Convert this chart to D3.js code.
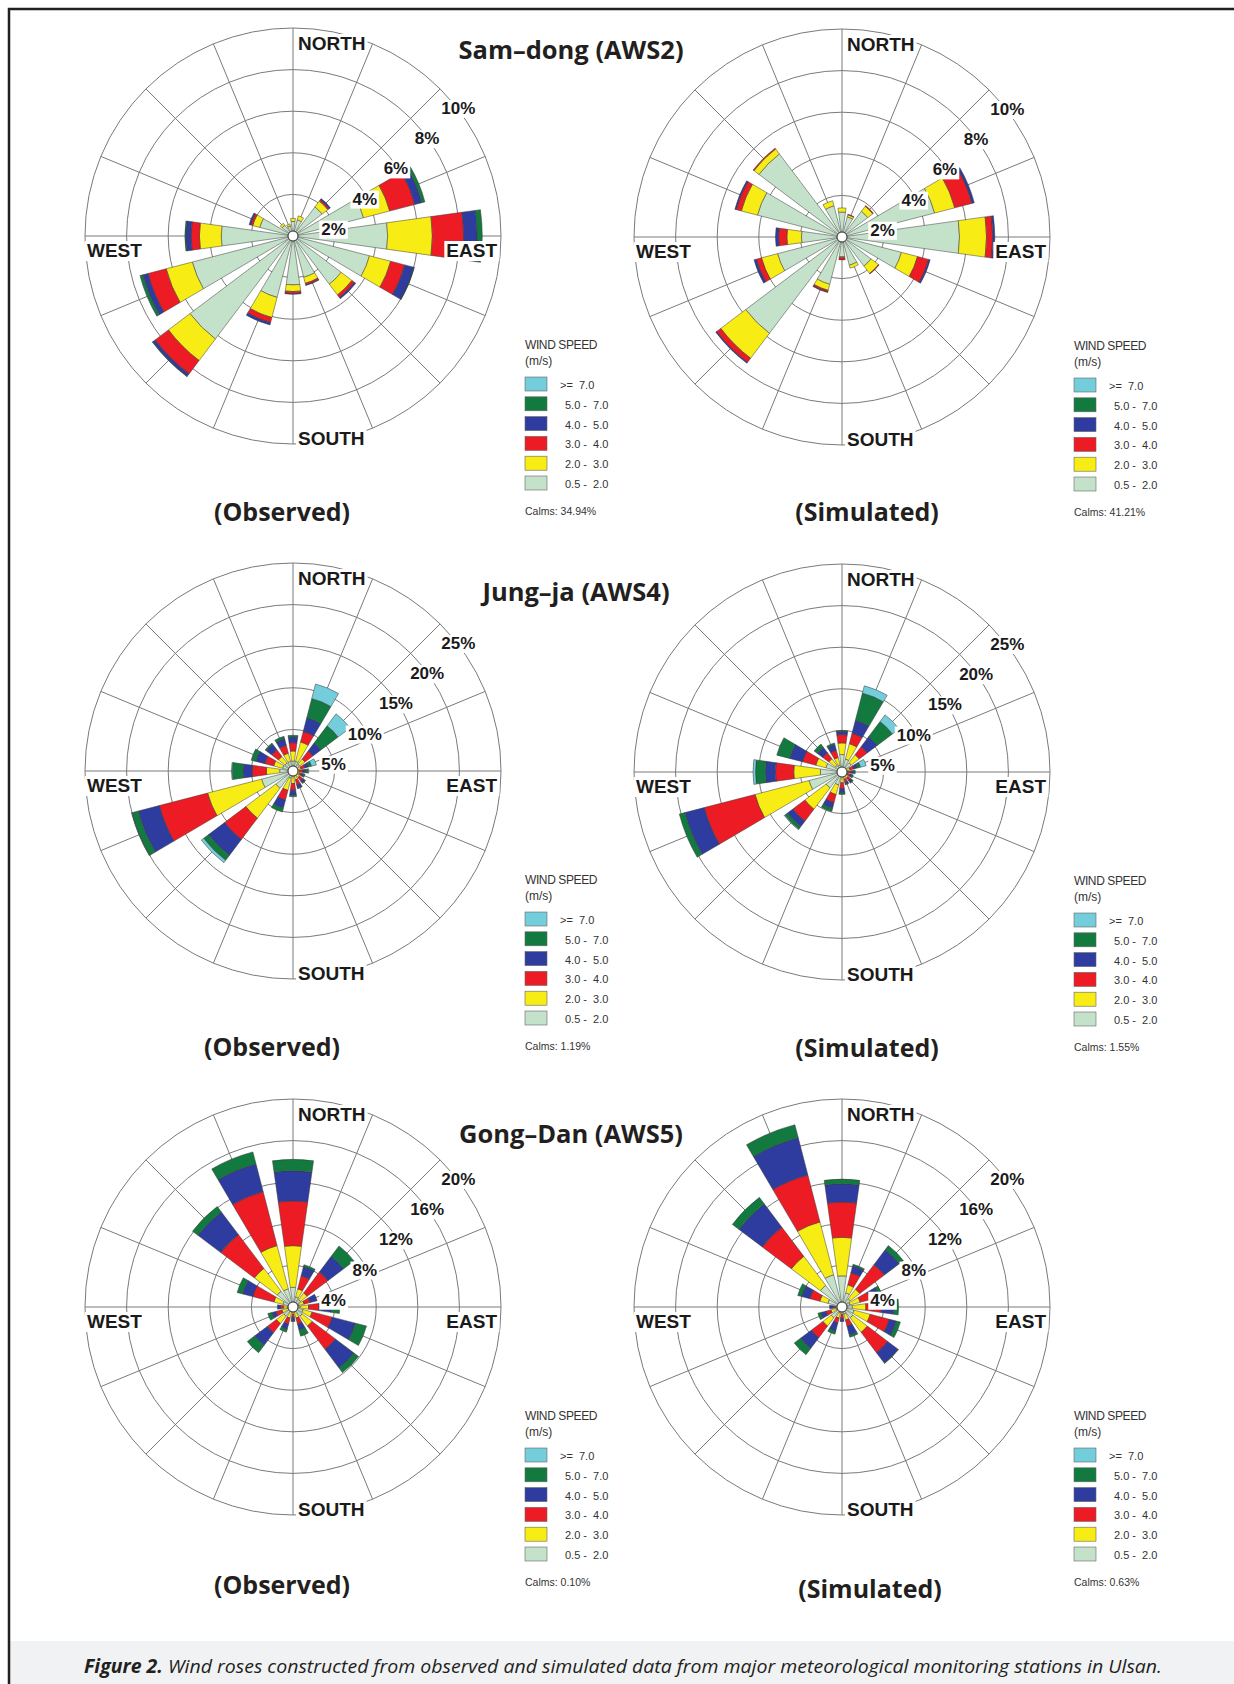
<!DOCTYPE html>
<html>
<head>
<meta charset="utf-8">
<script src="https://cdn.jsdelivr.net/npm/d3@7"></script>
<style>
  body { margin: 0; background: #fff; }
  svg { display: block; }
</style>
</head>
<body>
<div id="chart"></div>
<script>
// Directions, clockwise from north
const directions = ['N','NNE','NE','ENE','E','ESE','SE','SSE','S','SSW','SW','WSW','W','WNW','NW','NNW'];

// Speed bins (stacking order, inside -> outside)
const speedBins = ['0.5 - 2.0', '2.0 - 3.0', '3.0 - 4.0', '4.0 - 5.0', '5.0 - 7.0', '>= 7.0'];
const binColors = ['#c4e1c9', '#f7ec13', '#ed1c24', '#2d3c9e', '#127a3e', '#74cddb'];

// Ring labels (%)
const samdongTicks = [2, 4, 6, 8, 10];
const jungjaTicks = [5, 10, 15, 20, 25];
const gongdanTicks = [4, 8, 12, 16, 20];

// Frequencies (%) per direction: [0.5-2, 2-3, 3-4, 4-5, 5-7, >=7]
const samdongObs = [
  [0.7, 0.15, 0, 0, 0, 0],
  [0.8, 0.2, 0, 0, 0, 0],
  [1.75, 0.35, 0.08, 0.07, 0, 0],
  [3.5, 1.3, 1.25, 0.35, 0.15, 0],
  [4.55, 2.15, 1.5, 0.65, 0.25, 0],
  [3.8, 1.05, 0.7, 0.45, 0.03, 0],
  [2.9, 0.65, 0.15, 0.08, 0, 0],
  [2.05, 0.3, 0.08, 0.03, 0, 0],
  [2.35, 0.32, 0.1, 0.03, 0, 0],
  [3.05, 1.0, 0.25, 0.12, 0, 0],
  [6.2, 1.3, 0.8, 0.15, 0.02, 0],
  [5.0, 1.3, 0.9, 0.25, 0.15, 0],
  [3.45, 1.05, 0.4, 0.25, 0.05, 0],
  [1.65, 0.35, 0.1, 0.08, 0, 0],
  [0.65, 0.12, 0, 0, 0, 0],
  [0.5, 0.1, 0, 0, 0, 0]
];
const samdongSim = [
  [1.2, 0.2, 0, 0, 0, 0],
  [1.0, 0.1, 0.03, 0, 0, 0],
  [1.55, 0.3, 0.04, 0, 0, 0],
  [4.6, 1.0, 0.85, 0.12, 0, 0],
  [5.65, 1.3, 0.3, 0.1, 0, 0],
  [2.95, 0.8, 0.55, 0.08, 0, 0],
  [1.75, 0.45, 0.03, 0, 0, 0],
  [1.4, 0.15, 0, 0, 0, 0],
  [0.95, 0.05, 0.1, 0, 0, 0],
  [2.35, 0.3, 0.08, 0.03, 0, 0],
  [5.8, 1.5, 0.25, 0.05, 0, 0],
  [3.2, 0.8, 0.25, 0.12, 0, 0],
  [1.95, 0.7, 0.4, 0.15, 0, 0],
  [4.2, 0.8, 0.25, 0.07, 0, 0],
  [5.0, 0.3, 0.05, 0, 0, 0],
  [1.55, 0.25, 0, 0, 0, 0]
];
const jungjaObs = [
  [1.2, 1.2, 1.0, 0.7, 0.2, 0],
  [1.2, 2.4, 1.3, 1.7, 2.4, 1.8],
  [1.0, 0.8, 1.2, 1.2, 2.6, 1.8],
  [0.5, 0.5, 0.5, 0.4, 0.4, 0.6],
  [0.4, 0.4, 0.4, 0.3, 0.3, 0.1],
  [0.4, 0.4, 0.3, 0.2, 0.2, 0],
  [0.5, 0.5, 0.5, 0.3, 0.1, 0],
  [0.5, 0.6, 0.6, 0.4, 0.1, 0],
  [0.6, 0.9, 0.8, 0.6, 0.2, 0],
  [0.9, 1.5, 1.2, 1.0, 0.5, 0],
  [2.6, 4.5, 3.2, 2.4, 0.75, 0.35],
  [3.9, 6.7, 6.0, 2.6, 0.8, 0.05],
  [1.6, 1.6, 1.7, 1.1, 1.3, 0.1],
  [1.3, 1.1, 1.1, 1.1, 0.6, 0],
  [1.2, 1.0, 1.0, 0.8, 0.2, 0],
  [1.2, 1.0, 1.0, 0.8, 0.3, 0]
];
const jungjaSim = [
  [2.1, 1.4, 1.0, 0.4, 0.1, 0],
  [1.6, 1.9, 1.3, 1.6, 3.4, 0.9],
  [1.4, 1.2, 1.2, 1.5, 2.3, 1.0],
  [0.5, 0.5, 0.5, 0.4, 0.4, 0.7],
  [0.3, 0.4, 0.4, 0.3, 0.2, 0],
  [0.3, 0.4, 0.3, 0.2, 0.2, 0],
  [0.4, 0.5, 0.4, 0.3, 0.1, 0],
  [0.4, 0.5, 0.4, 0.2, 0.1, 0],
  [0.5, 0.8, 0.7, 0.5, 0.2, 0],
  [1.6, 1.2, 1.0, 0.7, 0.4, 0],
  [2.4, 3.2, 1.8, 0.8, 0.4, 0.1],
  [4.1, 6.7, 6.3, 2.4, 0.7, 0],
  [2.6, 3.2, 2.2, 1.2, 1.2, 0.3],
  [2.0, 1.25, 1.65, 1.6, 1.6, 0],
  [1.0, 1.0, 0.9, 0.8, 0.5, 0],
  [0.9, 0.9, 0.9, 0.7, 0.2, 0]
];
const gongdanObs = [
  [1.9, 4.0, 4.3, 2.9, 1.1, 0],
  [1.0, 0.8, 1.3, 0.9, 0.2, 0],
  [0.9, 0.8, 2.5, 1.9, 1.25, 0],
  [0.6, 0.5, 0.6, 0.7, 0, 0],
  [0.7, 0.8, 1.0, 1.2, 0.8, 0],
  [1.0, 0.9, 2.0, 2.3, 1.1, 0],
  [1.1, 1.2, 2.8, 2.25, 0.55, 0],
  [0.5, 0.6, 0.6, 0.6, 0.6, 0],
  [0.3, 0.4, 0.3, 0.3, 0.1, 0],
  [0.5, 0.6, 0.6, 0.5, 0.3, 0],
  [1.1, 0.9, 1.1, 1.5, 0.9, 0],
  [0.5, 0.6, 0.6, 0.4, 0.4, 0],
  [0.5, 0.4, 0.3, 0.3, 0, 0],
  [1.0, 0.9, 2.1, 1.0, 0.55, 0],
  [1.9, 2.75, 4.05, 2.75, 0.65, 0],
  [1.8, 4.3, 5.35, 2.75, 1.2, 0]
];
const gongdanSim = [
  [3.0, 3.7, 3.4, 1.75, 0.45, 0],
  [1.4, 0.8, 1.2, 0.7, 0.15, 0],
  [1.0, 1.15, 2.95, 1.8, 0.5, 0],
  [0.8, 1.0, 1.0, 0.9, 0.3, 0],
  [1.0, 1.3, 1.5, 1.2, 0.45, 0],
  [1.2, 1.6, 1.9, 0.7, 0.4, 0],
  [1.3, 1.75, 2.45, 1.25, 0.05, 0],
  [0.7, 0.6, 0.6, 0.9, 0.2, 0],
  [0.4, 0.3, 0.4, 0.3, 0, 0],
  [0.6, 0.5, 0.5, 0.8, 0.3, 0],
  [1.3, 1.0, 1.4, 1.3, 0.75, 0],
  [0.6, 0.5, 0.5, 0.5, 0.3, 0],
  [0.4, 0.2, 0.2, 0.4, 0, 0],
  [1.4, 0.8, 1.0, 0.8, 0.4, 0],
  [2.6, 3.5, 3.5, 2.8, 0.8, 0],
  [3.2, 5.25, 4.65, 3.7, 1.3, 0]
];

// Calms (%)
const calms = ['34.94%', '41.21%', '1.19%', '1.55%', '0.10%', '0.63%'];
const stationTitles = ['Sam\u2013dong (AWS2)', 'Jung\u2013ja (AWS4)', 'Gong\u2013Dan (AWS5)'];

const width = 1234, height = 1684;
const R = 208;

const svg = d3.select('#chart')
    .append('svg')
    .attr('width', width)
    .attr('height', height);

svg.append('rect').attr('width', width).attr('height', height).attr('fill', '#fff');

// Frame + caption band
svg.append('rect')
    .attr('x', 10).attr('y', 1641)
    .attr('width', width - 10).attr('height', height - 1641)
    .attr('fill', '#f1f2f4');
svg.append('path')
    .attr('d', `M9,${height} V9 H${width}`)
    .attr('fill', 'none')
    .attr('stroke', '#231f20')
    .attr('stroke-width', 2.5);

const caption = svg.append('text')
    .attr('x', 623)
    .attr('y', 1673)
    .attr('text-anchor', 'middle')
    .style('font-family', '"Open Sans", sans-serif')
    .style('font-style', 'italic')
    .style('font-size', '19px')
    .attr('fill', '#231f20')
    .attr('textLength', 1078)
    .attr('lengthAdjust', 'spacingAndGlyphs');
caption.append('tspan').style('font-weight', 700).text('Figure 2.');
caption.append('tspan').text(' Wind roses constructed from observed and simulated data from major meteorological monitoring stations in Ulsan.');

// Rose layout
const roses = [
  {data: samdongObs, ticks: samdongTicks, calm: calms[0], cx: 293, cy: 236, label: '(Observed)', lx: 282, ly: 521},
  {data: samdongSim, ticks: samdongTicks, calm: calms[1], cx: 842, cy: 237, label: '(Simulated)', lx: 867, ly: 521},
  {data: jungjaObs, ticks: jungjaTicks, calm: calms[2], cx: 293, cy: 771, label: '(Observed)', lx: 272, ly: 1056},
  {data: jungjaSim, ticks: jungjaTicks, calm: calms[3], cx: 842, cy: 772, label: '(Simulated)', lx: 867, ly: 1057},
  {data: gongdanObs, ticks: gongdanTicks, calm: calms[4], cx: 293, cy: 1307, label: '(Observed)', lx: 282, ly: 1594},
  {data: gongdanSim, ticks: gongdanTicks, calm: calms[5], cx: 842, cy: 1307, label: '(Simulated)', lx: 870, ly: 1598}
];

const titlePos = [{x: 571, y: 59}, {x: 576, y: 601}, {x: 571, y: 1143}];

const step = 2 * Math.PI / directions.length;
const halfWidth = 8 * Math.PI / 180;

// text with a white box behind it
function boxedText(g, txt, x, y, anchor, size) {
    const t = g.append('text')
        .attr('x', x)
        .attr('y', y)
        .attr('text-anchor', anchor)
        .style('font-family', '"Liberation Sans", Arial, sans-serif')
        .style('font-weight', 'bold')
        .style('font-size', size + 'px')
        .attr('fill', '#1a1a1a')
        .text(txt);
    const b = t.node().getBBox();
    g.insert('rect', () => t.node())
        .attr('x', b.x - 2)
        .attr('y', b.y + 1)
        .attr('width', b.width + 4)
        .attr('height', b.height - 1)
        .attr('fill', '#fff');
}

function drawRose(cfg) {
    const g = svg.append('g')
        .attr('transform', `translate(${cfg.cx},${cfg.cy})`);

    const maxTick = d3.max(cfg.ticks);
    const rScale = d3.scaleLinear().domain([0, maxTick]).range([0, R]);

    // rings
    g.selectAll('.ring')
        .data(cfg.ticks)
        .enter()
        .append('circle')
        .attr('class', 'ring')
        .attr('r', d => rScale(d))
        .attr('fill', 'none')
        .attr('stroke', '#7a7a7a')
        .attr('stroke-width', 1);

    // spokes
    g.selectAll('.spoke')
        .data(directions)
        .enter()
        .append('line')
        .attr('class', 'spoke')
        .attr('x1', 0).attr('y1', 0)
        .attr('x2', (d, i) => R * Math.sin(i * step))
        .attr('y2', (d, i) => -R * Math.cos(i * step))
        .attr('stroke', '#7a7a7a')
        .attr('stroke-width', 1);

    // stacked petals
    const segments = [];
    cfg.data.forEach((vals, i) => {
        let cum = 0;
        vals.forEach((v, k) => {
            if (v > 0) segments.push({dir: i, bin: k, r0: cum, r1: cum + v});
            cum += v;
        });
    });

    const arc = d3.arc()
        .innerRadius(d => rScale(d.r0))
        .outerRadius(d => rScale(d.r1))
        .startAngle(d => d.dir * step - halfWidth)
        .endAngle(d => d.dir * step + halfWidth);

    g.selectAll('.petal')
        .data(segments)
        .enter()
        .append('path')
        .attr('class', 'petal')
        .attr('d', arc)
        .attr('fill', d => binColors[d.bin])
        .attr('stroke', '#3a3a3a')
        .attr('stroke-width', 0.5);

    // compass labels
    boxedText(g, 'NORTH', 5, -R + 22, 'start', 19);
    boxedText(g, 'SOUTH', 5, R + 1, 'start', 19);
    boxedText(g, 'WEST', -R + 2, 21, 'start', 19);
    boxedText(g, 'EAST', R - 4, 21, 'end', 19);

    // ring labels
    cfg.ticks.forEach((t, k) => {
        const n = k + 1;
        boxedText(g, t + '%', R * (0.045 + 0.15 * n), R * (0.11 - 0.145 * n) + 6, 'middle', 17);
    });

    // centre hole
    g.append('circle')
        .attr('r', 5)
        .attr('fill', '#fff')
        .attr('stroke', '#333')
        .attr('stroke-width', 1);

    // legend
    const legend = g.append('g')
        .attr('transform', `translate(${R + 24}, ${113})`)
        .style('font-family', '"Liberation Sans", Arial, sans-serif')
        .attr('fill', '#333');
    legend.append('text').attr('x', 0).attr('y', 0)
        .style('font-size', '12px').style('letter-spacing', '-0.4px')
        .text('WIND SPEED');
    legend.append('text').attr('x', 0).attr('y', 16)
        .style('font-size', '12px')
        .text('(m/s)');

    const items = legend.selectAll('.legend-item')
        .data(d3.range(speedBins.length).reverse())
        .enter()
        .append('g')
        .attr('class', 'legend-item')
        .attr('transform', (d, i) => `translate(0, ${28 + i * 19.8})`);
    items.append('rect')
        .attr('width', 22)
        .attr('height', 14)
        .attr('fill', d => binColors[d])
        .attr('stroke', '#666')
        .attr('stroke-width', 0.6);
    items.append('text')
        .attr('x', d => d === 5 ? 35 : 40)
        .attr('y', 12)
        .style('font-size', '11px')
        .style('white-space', 'pre')
        .text(d => speedBins[d].replace(' - ', ' -  ').replace('>= ', '>=  '));

    legend.append('text').attr('x', 0).attr('y', 166)
        .style('font-size', '10.5px')
        .text('Calms: ' + cfg.calm);

    // sub label
    svg.append('text')
        .attr('x', cfg.lx)
        .attr('y', cfg.ly)
        .attr('text-anchor', 'middle')
        .style('font-family', '"Open Sans", sans-serif')
        .style('font-weight', 700)
        .style('font-size', '25px')
        .attr('fill', '#231f20')
        .text(cfg.label);
}

roses.forEach(drawRose);

// station titles
svg.selectAll('.station-title')
    .data(stationTitles)
    .enter()
    .append('text')
    .attr('class', 'station-title')
    .attr('x', (d, i) => titlePos[i].x)
    .attr('y', (d, i) => titlePos[i].y)
    .attr('text-anchor', 'middle')
    .style('font-family', '"Open Sans", sans-serif')
    .style('font-weight', 700)
    .style('font-size', '25.5px')
    .attr('fill', '#231f20')
    .text(d => d);
</script>
</body>
</html>
